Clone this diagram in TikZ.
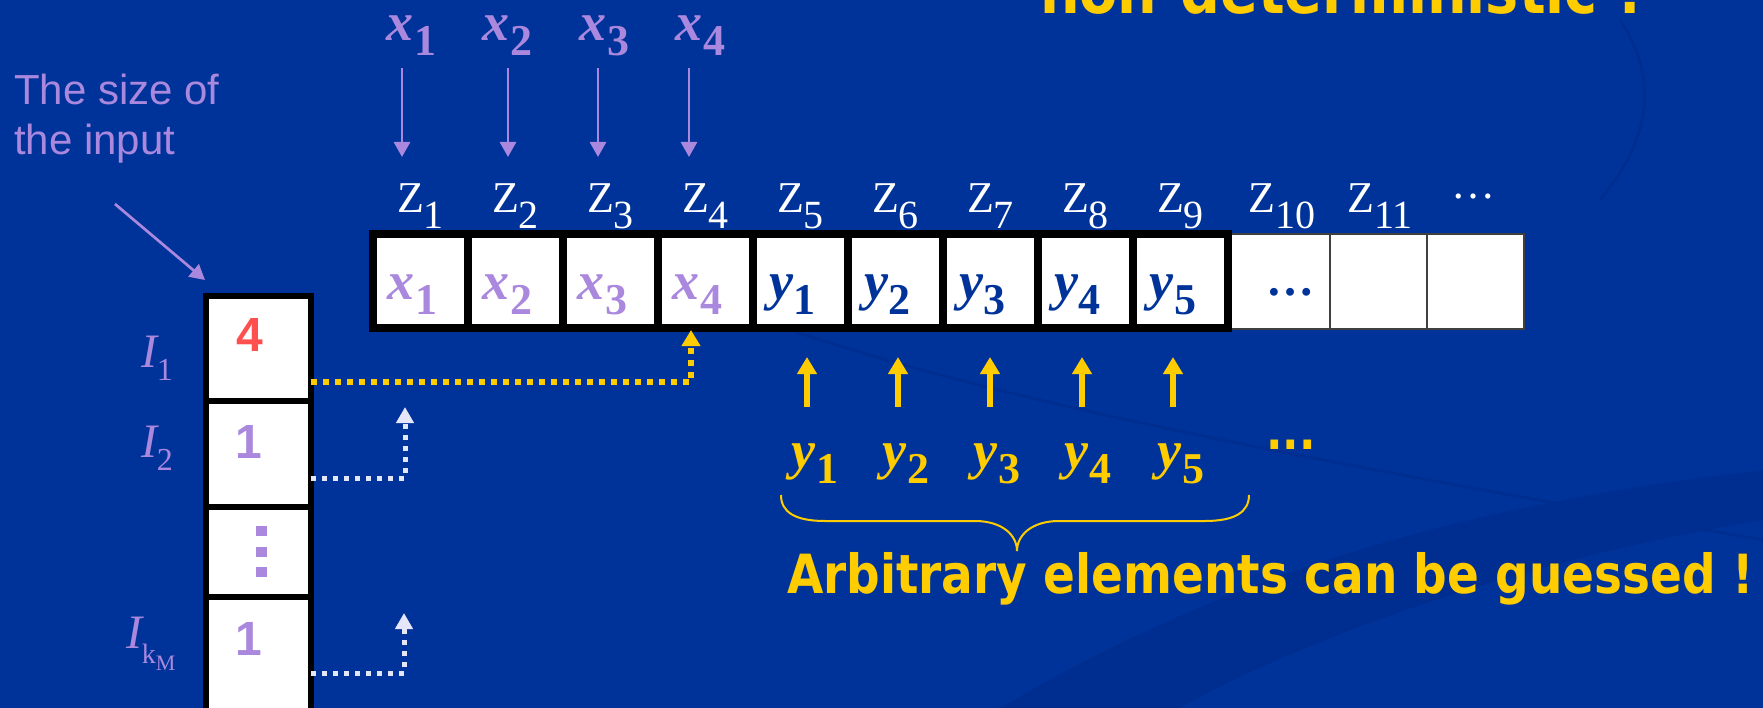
\documentclass[tikz,border=0pt]{standalone}
\usepackage{fontspec}
\setmainfont{Liberation Serif}
\newfontfamily\arialf{Liberation Sans}
\newfontfamily\verdf{DejaVu Sans}
\usetikzlibrary{arrows.meta}
\definecolor{bgblue}{RGB}{0,51,153}
\definecolor{swoosh}{RGB}{0,46,144}
\definecolor{lav}{RGB}{170,136,222}
\definecolor{yel}{RGB}{255,204,0}
\definecolor{wlav}{RGB}{230,230,250}
\definecolor{redd}{RGB}{255,80,80}
\definecolor{dblue}{RGB}{0,51,153}
\newcommand{\fs}[1]{\fontsize{#1}{#1}\selectfont}
\newcommand{\xv}[1]{{\fs{54}\bfseries\itshape x}\kern1pt\raisebox{-15pt}{\fs{44}\bfseries #1}}
\newcommand{\yv}[1]{{\fs{54}\bfseries\itshape y}\kern1pt\raisebox{-15pt}{\fs{44}\bfseries #1}}
\newcommand{\zv}[1]{{\fs{44}Z}\raisebox{-16pt}{\fs{40}#1}}
\newcommand{\iv}[1]{{\fs{48}\itshape I}\raisebox{-13pt}{\fs{32}#1}}
\begin{document}
\begin{tikzpicture}[x=1pt,y=-1pt,
  zcell/.style={draw=black, fill=white, line width=8pt, minimum width=95pt, minimum height=94pt, inner sep=0pt, outer sep=0pt},
  tcell/.style={draw=black!75, fill=white, line width=1.5pt, minimum height=95pt, inner sep=0pt, outer sep=0pt},
  icell/.style={draw=black, fill=white, line width=6pt, minimum width=105pt, inner sep=0pt, outer sep=0pt},
  lbl/.style={inner sep=0pt, outer sep=0pt, anchor=base},
  lavarrow/.style={draw=lav, line width=2.7pt, -{Triangle[length=15pt,width=16pt]}},
  yelarrow/.style={draw=yel, line width=6pt, -{Triangle[length=17pt,width=19pt]}},
  ydots/.style={draw=yel, line width=6pt, dash pattern=on 6pt off 6pt, -{Triangle[length=16pt,width=18pt]}},
  wdots/.style={draw=wlav, line width=5pt, dash pattern=on 5pt off 6pt, -{Triangle[length=16pt,width=17pt]}},
]
\useasboundingbox (0,0) rectangle (1763,708);
\clip (0,0) rectangle (1763,708);
\fill[bgblue] (0,0) rectangle (1763,708);
% faint background swooshes
\fill[swoosh] (1000,708) .. controls (1250,560) and (1500,500) .. (1763,470) -- (1763,520) .. controls (1520,560) and (1300,640) .. (1180,708) -- cycle;
\draw[swoosh, line width=3pt] (790,330) .. controls (1000,400) and (1250,450) .. (1763,540);
\draw[swoosh, line width=3pt] (1620,20) .. controls (1660,80) and (1650,140) .. (1600,200);

% title (cut off at top)
\node[lbl, anchor=base west, text=yel] (title) at (1040,14) {\verdf\bfseries\fs{64}\scalebox{0.87}[1]{non-deterministic !}};

% left caption
\node[lbl, anchor=base west, text=lav] (cap1) at (14,105) {\arialf\fs{42}The size of};
\node[lbl, anchor=base west, text=lav] (cap2) at (14,155) {\arialf\fs{42}the input};
\coordinate (capa) at (115,204);
\coordinate (capb) at (205,280);
\draw[lavarrow] (capa) -- (capb);

% thin cells
\node[tcell, minimum width=102pt] (t10) at (1279,281.5) {};
\node[tcell, minimum width=97pt] (t11) at (1378.5,281.5) {};
\node[tcell, minimum width=97pt] (t12) at (1475.5,281.5) {};
% thick cells
\foreach \i in {1,...,9} {
  \node[zcell] (c\i) at ({325.5+95*\i},281) {};
}
% Z labels
\foreach \i in {1,...,9} {
  \node[lbl, text=white] (z\i) at ({325.5+95*\i},213) {\zv{\i}};
}
\node[lbl, text=white] (z10) at (1282,213) {\zv{10}};
\node[lbl, text=white] (z11) at (1380,213) {\zv{11}};
\node[lbl, text=white] (zdots) at (1473,199) {\fs{44}\textellipsis};

% cell contents
\foreach \i in {1,...,4} {
  \node[lbl, text=lav] (v\i) at ({317.5+95*\i},300) {\xv{\i}};
}
\foreach \i in {1,...,5} {
  \node[lbl, text=dblue] (w\i) at ({697.5+95*\i},300) {\yv{\i}};
}
\node[lbl, text=dblue] (cdots) at (1290,296) {\fs{48}\bfseries\textellipsis};

% top x labels and arrows
\node[lbl, text=lav] (x1) at (411,41) {\xv{1}};
\node[lbl, text=lav] (x2) at (507,41) {\xv{2}};
\node[lbl, text=lav] (x3) at (604,41) {\xv{3}};
\node[lbl, text=lav] (x4) at (700,41) {\xv{4}};
\foreach \i/\xx in {1/402,2/508,3/598,4/689} {
  \coordinate (xa\i) at (\xx,68);
  \coordinate (xb\i) at (\xx,157);
  \draw[lavarrow] (xa\i) -- (xb\i);
}

% guessed y labels and arrows
\foreach \i/\xx/\lx in {1/807/815,2/898/906,3/990/997,4/1082/1088,5/1173/1181} {
  \node[lbl, text=yel] (g\i) at (\lx,468) {\yv{\i}};
  \coordinate (ga\i) at (\xx,407);
  \coordinate (gb\i) at (\xx,357);
  \draw[yelarrow] (ga\i) -- (gb\i);
}
\node[lbl, anchor=base west, text=yel] (gdots) at (1266,449) {\verdf\bfseries\fs{50}\scalebox{0.87}[1]{...}};

% brace
\coordinate (brl) at (781,495);
\coordinate (brr) at (1249,495);
\coordinate (brt) at (1017,551);
\draw[yel, line width=2pt] (brl) .. controls (781,512) and (795,521) .. (825,521) -- (975,521)
  .. controls (1002,521) and (1017,535) .. (brt)
  .. controls (1017,535) and (1032,521) .. (1059,521) -- (1205,521)
  .. controls (1235,521) and (1249,512) .. (brr);
\node[lbl, anchor=base west, text=yel] (arb) at (787,593) {\verdf\bfseries\fs{54}\scalebox{0.87}[1]{Arbitrary elements can be guessed !}};

% I column
\node[icell, minimum height=104.5pt] (i1) at (258.5,348.25) {};
\node[icell, minimum height=106.5pt] (i2) at (258.5,453.75) {};
\node[icell, minimum height=90pt] (i3) at (258.5,552) {};
\node[icell, minimum height=123pt] (i4) at (258.5,658.5) {};
\node[lbl, text=redd] (n1) at (250,352) {\arialf\bfseries\fs{48}4};
\node[lbl, text=lav] (n2) at (249,458) {\arialf\bfseries\fs{48}1};
\node[lbl, text=lav] (n4) at (249,655) {\arialf\bfseries\fs{48}1};
\foreach \yy in {526,547,567} { \fill[lav] (256,\yy) rectangle ++(11,10); }
\node[lbl, anchor=base west, text=lav] (l1) at (141,367) {\iv{1}};
\node[lbl, anchor=base west, text=lav] (l2) at (141,457) {\iv{2}};
\node[lbl, anchor=base west, text=lav] (l4) at (126,648) {{\fs{48}\itshape I}\raisebox{-15pt}{\fs{28}k\raisebox{-7pt}{\fs{22}M}}};

% dotted connectors
\coordinate (d1s) at (311,382);
\coordinate (d1e) at (691,330);
\draw[ydots] (d1s) -| (d1e);
\coordinate (d2s) at (311,478);
\coordinate (d2e) at (405,407);
\draw[wdots] (d2s) -| (d2e);
\coordinate (d4s) at (311,673);
\coordinate (d4e) at (404,613);
\draw[wdots] (d4s) -| (d4e);
\end{tikzpicture}
\end{document}
